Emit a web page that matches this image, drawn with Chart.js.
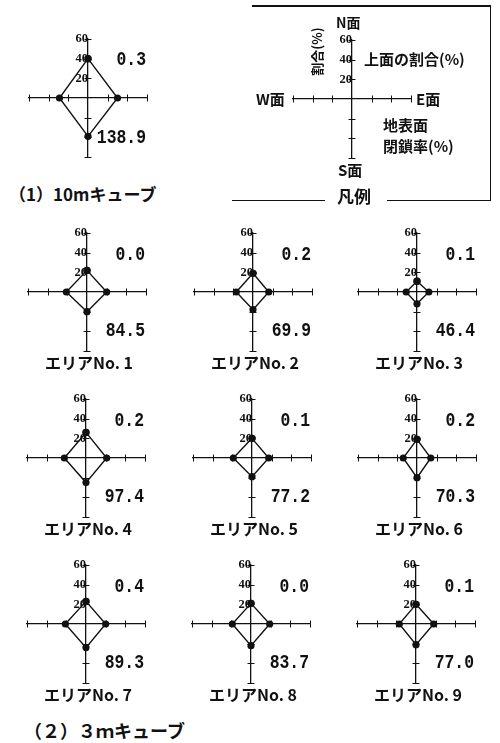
<!DOCTYPE html>
<html>
<head>
<meta charset="utf-8">
<script src="https://cdn.jsdelivr.net/npm/chart.js@4.4.0/dist/chart.umd.min.js"></script>
<style>
body{margin:0;background:#fff;width:500px;height:743px;position:relative;overflow:hidden;color:#111;font-family:"Noto Sans CJK JP",sans-serif}
canvas.c{position:absolute}
.t{position:absolute;white-space:nowrap;line-height:1;font-weight:bold}
.num{font-family:"Liberation Mono",monospace;font-size:20px;font-weight:bold;transform:scaleX(0.82);transform-origin:right center}
.cap{font-size:16px}
.lg{font-size:15px}
.ln{position:absolute;background:#111}
</style>
</head>
<body>
<script>
// 各面の割合(%)  N, E, S, W
var names = ['（1）10mキューブ', 'エリアNo. 1', 'エリアNo. 2', 'エリアNo. 3', 'エリアNo. 4',
             'エリアNo. 5', 'エリアNo. 6', 'エリアNo. 7', 'エリアNo. 8', 'エリアNo. 9'];
var northVals = [40, 22, 19, 11, 26, 20, 19, 23, 21, 20];
var eastVals  = [30, 20, 16, 12, 21, 17, 14, 20, 19, 18];
var southVals = [39, 20, 18, 12, 25, 19, 20, 24, 22, 21];
var westVals  = [29, 21, 17, 11, 22, 19, 14, 21, 19, 17];
// 上面の割合(%) / 地表面閉鎖率(%)
var topRatio   = ['0.3', '0.0', '0.2', '0.1', '0.2', '0.1', '0.2', '0.4', '0.0', '0.1'];
var closeRatio = ['138.9', '84.5', '69.9', '46.4', '97.4', '77.2', '70.3', '89.3', '83.7', '77.0'];
var tickLabels = [20, 40, 60];

// where each little chart sits on the page
var centers = [[88, 98], [87, 292], [253, 292], [417, 292], [86, 458], [252, 458], [417, 458],
               [86, 624], [251, 624], [416, 624]];

var crossTicks = {
  id: 'crossTicks',
  beforeDatasetsDraw: function(chart) {
    var ctx = chart.ctx, xs = chart.scales.x, ys = chart.scales.y;
    var x0 = xs.getPixelForValue(0), y0 = ys.getPixelForValue(0);
    ctx.save();
    ctx.strokeStyle = '#111';
    ctx.lineWidth = 1;
    xs.ticks.forEach(function(t) {
      if (t.value === 0) return;
      var px = Math.round(xs.getPixelForValue(t.value)) + 0.5;
      ctx.beginPath(); ctx.moveTo(px, y0 - 3.5); ctx.lineTo(px, y0 + 3.5); ctx.stroke();
    });
    ys.ticks.forEach(function(t) {
      if (t.value === 0) return;
      var py = Math.round(ys.getPixelForValue(t.value)) + 0.5;
      ctx.beginPath(); ctx.moveTo(x0 - 3.5, py); ctx.lineTo(x0 + 3.5, py); ctx.stroke();
    });
    ctx.restore();
  }
};

function addCanvas(cx, cy) {
  var cv = document.createElement('canvas');
  cv.className = 'c';
  cv.width = 148; cv.height = 148;
  cv.style.left = (cx - 74) + 'px';
  cv.style.top = (cy - 74) + 'px';
  document.body.appendChild(cv);
  return cv;
}

function makeChart(cv, pts) {
  return new Chart(cv, {
    type: 'scatter',
    data: {
      datasets: [{
        data: pts,
        showLine: true,
        tension: 0,
        borderColor: '#111',
        borderWidth: 1.4,
        pointRadius: 3.6,
        pointBackgroundColor: '#111',
        pointBorderWidth: 0
      }]
    },
    options: {
      responsive: false,
      animation: false,
      events: [],
      layout: {padding: 15},
      plugins: {legend: {display: false}, tooltip: {enabled: false}},
      scales: {
        x: {
          type: 'linear', min: -60, max: 60, position: {y: 0},
          grid: {drawOnChartArea: false, drawTicks: false},
          border: {color: '#111', width: 1.3},
          ticks: {display: false, stepSize: 20}
        },
        y: {
          type: 'linear', min: -60, max: 60, position: {x: 0},
          grid: {drawOnChartArea: false, drawTicks: false},
          border: {color: '#111', width: 1.3},
          ticks: {
            stepSize: 20, padding: 4, color: '#111',
            font: {family: 'Liberation Sans Narrow', size: 12.5, weight: 'bold'},
            callback: function(v) { return tickLabels.indexOf(v) >= 0 ? v : ''; }
          }
        }
      }
    },
    plugins: [crossTicks]
  });
}

function text(str, cls, x, y, align) {
  var d = document.createElement('div');
  d.className = 't ' + cls;
  d.textContent = str;
  d.style.top = y + 'px';
  if (align === 'right') {
    d.style.right = (500 - x) + 'px';
  } else if (align === 'center') {
    d.style.left = x + 'px';
    d.style.transform = 'translateX(-50%)';
  } else {
    d.style.left = x + 'px';
  }
  document.body.appendChild(d);
  return d;
}

for (var i = 0; i < names.length; i++) {
  var cx = centers[i][0], cy = centers[i][1];
  var pts = [
    {x: 0, y: northVals[i]}, {x: eastVals[i], y: 0}, {x: 0, y: -southVals[i]},
    {x: -westVals[i], y: 0}, {x: 0, y: northVals[i]}
  ];
  makeChart(addCanvas(cx, cy), pts);
  var dy = i === 0 ? 39 : 38;
  text(topRatio[i], 'num', cx + 58, cy - dy - 9, 'right');
  text(closeRatio[i], 'num', cx + 58, cy + dy - 9, 'right');
  if (i > 0) text(names[i], 'cap', cx + 2, cy + 62, 'center');
}
text(names[0], 'cap', 9, 185, 'left').style.fontSize = '17px';
text('（２）３ｍキューブ', 'cap', 24, 721, 'left').style.fontSize = '18px';

// 凡例
makeChart(addCanvas(352, 99), []);
text('N面', 'lg', 336, 15, 'left').style.fontSize = '14px';
var v = text('割合(%)', 'lg', 316, 45, 'center');
v.style.fontSize = '13px';
v.style.transform = 'translateX(-50%) rotate(-90deg)';
text('上面の割合(%)', 'lg', 364, 51, 'left');
text('W面', 'lg', 256, 91, 'left');
text('E面', 'lg', 416, 91, 'left');
text('地表面', 'lg', 383, 117, 'left');
text('閉鎖率(%)', 'lg', 383, 138, 'left');
text('S面', 'lg', 338, 162, 'left');
text('凡例', 'lg', 337, 187, 'left').style.fontSize = '17px';

function line(x, y, w, h) {
  var d = document.createElement('div');
  d.className = 'ln';
  d.style.left = x + 'px'; d.style.top = y + 'px';
  d.style.width = w + 'px'; d.style.height = h + 'px';
  document.body.appendChild(d);
}
line(252, 5, 239, 1.5);
line(489.5, 5, 1.5, 196);
line(232, 199.5, 93, 1.5);
line(387, 199.5, 104, 1.5);
</script>
</body>
</html>
